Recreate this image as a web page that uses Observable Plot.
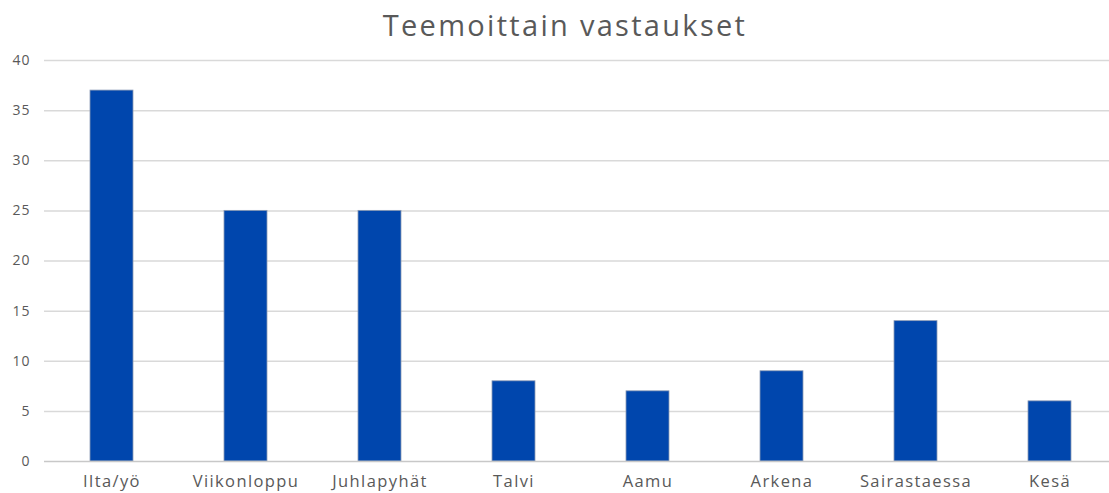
<!DOCTYPE html>
<html>
<head>
<meta charset="utf-8">
<script src="https://cdn.jsdelivr.net/npm/d3@7"></script>
<script src="https://cdn.jsdelivr.net/npm/@observablehq/plot@0.6"></script>
<style>
  html, body { margin: 0; padding: 0; background: #fff; }
  #title { width: 1109px; height: 50px; text-align: center; font-family: "Open Sans", "Noto Sans", sans-serif; font-size: 29px; color: #595959; line-height: 50px; letter-spacing: 2.3px; padding-left: 21px; box-sizing: border-box; }
  svg { display: block; }
  g[aria-label="x-axis tick label"] text { letter-spacing: 1.4px; }
  g[aria-label="y-axis tick label"] text { letter-spacing: 1px; }
</style>
</head>
<body>
<div id="title">Teemoittain vastaukset</div>
<div id="chart"></div>
<script>
const categories = ["Ilta/yö", "Viikonloppu", "Juhlapyhät", "Talvi", "Aamu", "Arkena", "Sairastaessa", "Kesä"];
const values = [37, 25, 25, 8, 7, 9, 14, 6];
const yTicks = [0, 5, 10, 15, 20, 25, 30, 35, 40];

const data = categories.map((c, i) => ({category: c, value: values[i]}));

const chart = Plot.plot({
  width: 1109,
  height: 443,
  marginTop: 10,
  marginBottom: 32,
  marginLeft: 44,
  marginRight: 0,
  style: {fontFamily: "'Open Sans', 'Noto Sans', sans-serif", color: "#595959", background: "#fff"},
  x: {domain: categories, range: [44, 1116], paddingInner: 0.68, paddingOuter: 0.34, label: null},
  y: {domain: [0, 40], label: null},
  marks: [
    Plot.ruleY(yTicks.filter(d => d > 0), {y: d => d, stroke: "#d9d9d9", strokeWidth: 1.5}),
    Plot.barY(data, {x: "category", y: "value", fill: "#0046ad", stroke: "#8c9bb5", strokeWidth: 0.8}),
    Plot.ruleY([0], {stroke: "#c8c8c8", strokeWidth: 1.5}),
    Plot.axisY({ticks: yTicks, tickSize: 0, tickPadding: 14, fontSize: 14, fill: "#595959", label: null}),
    Plot.axisX({tickSize: 0, tickPadding: 14, fontSize: 16.5, fill: "#595959", label: null})
  ]
});
document.getElementById("chart").appendChild(chart);
</script>
</body>
</html>
